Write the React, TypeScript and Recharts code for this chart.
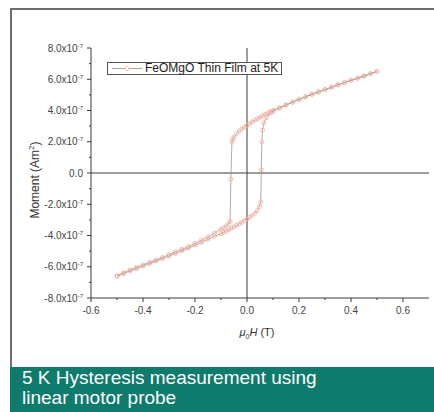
import React from 'react';
import { ScatterChart, Scatter, XAxis, YAxis, ReferenceLine } from 'recharts';

// Applied field μ0H (T) and moment (units of 1e-7 A·m²)
const fieldUpper = [0.50, 0.475, 0.45, 0.425, 0.40, 0.375, 0.35, 0.325, 0.30, 0.275, 0.25, 0.225, 0.20, 0.175, 0.15, 0.125, 0.10, 0.09, 0.08, 0.07, 0.06, 0.05, 0.04, 0.03, 0.02, 0.01, 0.00, -0.01, -0.02, -0.03, -0.04, -0.05, -0.055, -0.058, -0.062, -0.065, -0.07, -0.08, -0.09, -0.10, -0.125, -0.15, -0.175, -0.20, -0.225, -0.25, -0.275, -0.30, -0.325, -0.35, -0.375, -0.40, -0.425, -0.45, -0.475, -0.50];
const momentUpper = [6.50, 6.36, 6.22, 6.08, 5.94, 5.80, 5.65, 5.50, 5.35, 5.20, 5.05, 4.88, 4.72, 4.55, 4.36, 4.18, 4.00, 3.93, 3.84, 3.75, 3.66, 3.57, 3.47, 3.37, 3.27, 3.16, 3.05, 2.94, 2.82, 2.68, 2.52, 2.30, 2.15, 2.00, -0.40, -3.10, -3.25, -3.38, -3.50, -3.60, -3.85, -4.08, -4.30, -4.50, -4.70, -4.88, -5.05, -5.22, -5.40, -5.56, -5.72, -5.88, -6.04, -6.20, -6.38, -6.58];
const fieldLower = [-0.50, -0.475, -0.45, -0.425, -0.40, -0.375, -0.35, -0.325, -0.30, -0.275, -0.25, -0.225, -0.20, -0.175, -0.15, -0.125, -0.10, -0.09, -0.08, -0.07, -0.06, -0.05, -0.04, -0.03, -0.02, -0.01, 0.00, 0.01, 0.02, 0.03, 0.04, 0.048, 0.053, 0.055, 0.057, 0.06, 0.065, 0.075, 0.09, 0.10, 0.125, 0.15, 0.175, 0.20, 0.225, 0.25, 0.275, 0.30, 0.325, 0.35, 0.375, 0.40, 0.425, 0.45, 0.475, 0.50];
const momentLower = [-6.60, -6.44, -6.28, -6.12, -5.96, -5.80, -5.64, -5.48, -5.32, -5.15, -4.98, -4.80, -4.62, -4.44, -4.25, -4.06, -3.88, -3.80, -3.72, -3.63, -3.54, -3.45, -3.35, -3.25, -3.15, -3.05, -2.95, -2.84, -2.72, -2.58, -2.40, -2.15, -1.85, 0.20, 2.00, 2.75, 3.20, 3.55, 3.82, 3.95, 4.15, 4.34, 4.52, 4.70, 4.86, 5.03, 5.18, 5.33, 5.48, 5.63, 5.78, 5.92, 6.06, 6.20, 6.35, 6.50];

const xMajorTicks = [-0.6, -0.4, -0.2, 0, 0.2, 0.4, 0.6];
const xMinorTicks = [-0.5, -0.3, -0.1, 0.1, 0.3, 0.5];
const yMajorTicks = [-8, -6, -4, -2, 0, 2, 4, 6, 8];
const yMinorTicks = [-7, -5, -3, -1, 1, 3, 5, 7];
const yExponent = '-7';

const seriesName = 'FeOMgO Thin Film at 5K';
const captionLines = ['5 K Hysteresis measurement using', 'linear motor probe'];

const MARKER = '#f4ad9a';
const LINE = '#a6948f';
const AXIS = '#3a3a3a';
const TICK_TEXT = '#444';
const FONT = '"Liberation Sans", Arial, sans-serif';

const upperData = fieldUpper.map((h, i) => ({ h, m: momentUpper[i] }));
const lowerData = fieldLower.map((h, i) => ({ h, m: momentLower[i] }));
const xAllTicks = [...xMajorTicks, ...xMinorTicks].sort((a, b) => a - b);
const yAllTicks = [...yMajorTicks, ...yMinorTicks].sort((a, b) => a - b);

const Marker = (props: any) => {
  const { cx, cy } = props;
  if (cx == null || cy == null) return null;
  return <circle cx={cx} cy={cy} r={2} fill="none" stroke={MARKER} strokeWidth={0.8} />;
};

const XTick = (props: any) => {
  const { x, y, payload } = props;
  const v = payload.value;
  const major = xMajorTicks.includes(v);
  return (
    <g>
      <line x1={x} x2={x} y1={y} y2={y + (major ? 4 : 2)} stroke={AXIS} strokeWidth={1} />
      {major && (
        <text x={x} y={y + 16} textAnchor="middle" fontSize={10} fill={TICK_TEXT} fontFamily={FONT}>
          {v.toFixed(1)}
        </text>
      )}
    </g>
  );
};

const YTick = (props: any) => {
  const { x, y, payload } = props;
  const v = payload.value;
  const major = yMajorTicks.includes(v);
  return (
    <g>
      <line x1={x - (major ? 4 : 2)} x2={x} y1={y} y2={y} stroke={AXIS} strokeWidth={1} />
      {major && (
        <text x={x - 8} y={y + 3.5} textAnchor="end" fontSize={10} fill={TICK_TEXT} fontFamily={FONT}>
          {v === 0 ? (
            '0.0'
          ) : (
            <>
              <tspan>{`${v.toFixed(1)}x10`}</tspan>
              <tspan dy={-4} fontSize={6}>{yExponent}</tspan>
            </>
          )}
        </text>
      )}
    </g>
  );
};

export default function App() {
  return (
    <div style={{ position: 'fixed', left: 0, top: 0, width: 434, height: 412, overflow: 'hidden', background: '#fff', fontFamily: FONT }}>
      <div style={{ position: 'absolute', left: 10, top: 8, width: 440, height: 420, borderLeft: '2px solid #6e6e6e', borderTop: '2px solid #6e6e6e' }} />
      <div style={{ position: 'absolute', left: 10, top: 367, width: 424, height: 45, background: '#0f7b6c' }} />
      <div style={{ position: 'absolute', left: 22, top: 368, color: '#fff', fontSize: 19, lineHeight: '20px', whiteSpace: 'nowrap' }}>
        {captionLines.map((l, i) => (
          <div key={i}>{l}</div>
        ))}
      </div>

      <div style={{ position: 'absolute', left: 0, top: 0 }}>
        <ScatterChart width={434} height={412} margin={{ top: 48, right: 5, bottom: 113, left: 90 }}>
          <XAxis
            type="number"
            dataKey="h"
            domain={[-0.6, 0.7]}
            allowDataOverflow
            ticks={xAllTicks}
            tick={<XTick />}
            tickLine={false}
            tickSize={0}
            tickMargin={0}
            height={1}
            stroke={AXIS}
            interval={0}
          />
          <YAxis
            type="number"
            dataKey="m"
            domain={[-8, 8]}
            allowDataOverflow
            ticks={yAllTicks}
            tick={<YTick />}
            tickLine={false}
            tickSize={0}
            tickMargin={0}
            width={1}
            stroke={AXIS}
            interval={0}
          />
          <ReferenceLine x={0} stroke={AXIS} strokeWidth={1} />
          <ReferenceLine y={0} stroke={AXIS} strokeWidth={1} />
          <Scatter
            name={seriesName}
            data={upperData}
            line={{ stroke: LINE, strokeWidth: 0.8 }}
            lineType="joint"
            shape={Marker}
            isAnimationActive={false}
          />
          <Scatter
            name={seriesName}
            data={lowerData}
            line={{ stroke: LINE, strokeWidth: 0.8 }}
            lineType="joint"
            shape={Marker}
            isAnimationActive={false}
          />
        </ScatterChart>
      </div>

      <div style={{ position: 'absolute', left: 107, top: 62, width: 175, height: 13, border: '1px solid #555', boxSizing: 'border-box', background: '#fff' }}>
        <svg width={34} height={11} style={{ position: 'absolute', left: 3, top: 0 }}>
          <line x1={1} x2={31} y1={5.5} y2={5.5} stroke={LINE} strokeWidth={0.9} />
          <circle cx={16} cy={5.5} r={2} fill="#fff" stroke={MARKER} strokeWidth={0.9} />
        </svg>
        <div style={{ position: 'absolute', left: 37, top: -2, fontSize: 12, lineHeight: '14px', color: '#222', whiteSpace: 'nowrap' }}>
          {seriesName}
        </div>
      </div>

      <div style={{ position: 'absolute', left: 35, top: 180, transform: 'translate(-50%, -50%) rotate(-90deg)', fontSize: 12, color: '#333', whiteSpace: 'nowrap' }}>
        Moment (Am<sup style={{ fontSize: 8, verticalAlign: 'super', lineHeight: 0 }}>2</sup>)
      </div>
      <div style={{ position: 'absolute', left: 257, top: 332, transform: 'translate(-50%, -50%)', fontSize: 11, color: '#333', whiteSpace: 'nowrap' }}>
        <i>μ</i>
        <sub style={{ fontSize: 7, lineHeight: 0 }}>0</sub>
        <i>H</i> (T)
      </div>
    </div>
  );
}
